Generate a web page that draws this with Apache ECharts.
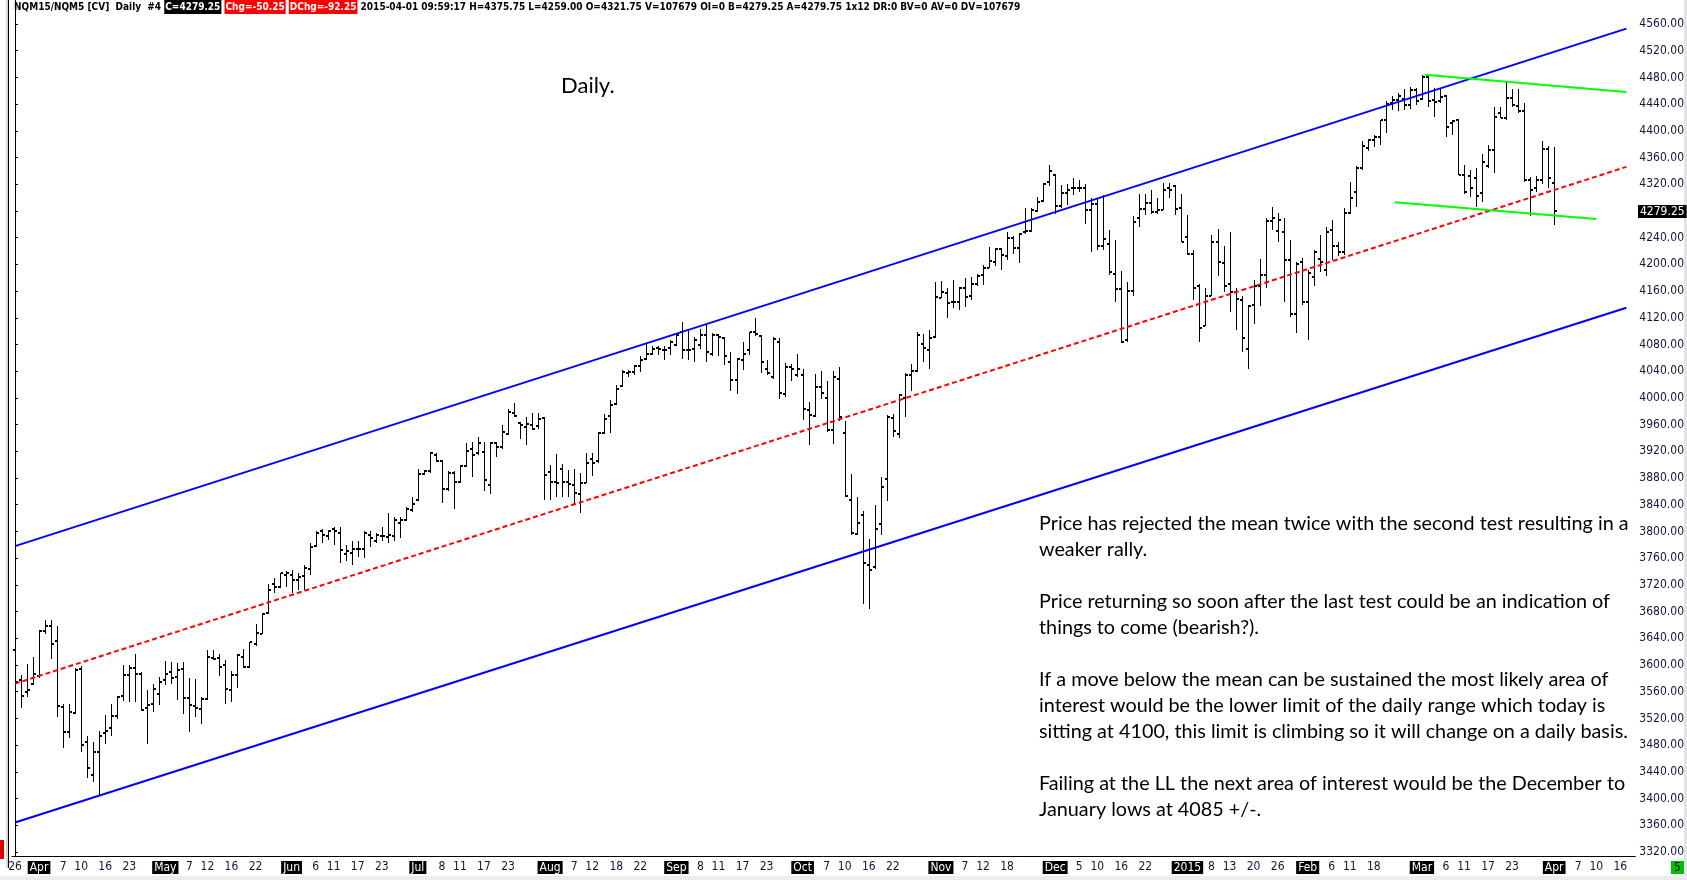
<!DOCTYPE html>
<html lang="en">
<head>
<meta charset="UTF-8"/>
<title>NQM15 Daily</title>
<script src="https://cdn.jsdelivr.net/npm/echarts@6.0.0/dist/echarts.min.js"></script>
<style>
	html, body { margin: 0; padding: 0; background: #fff; }
	#main { width: 1687px; height: 880px; }
</style>
</head>
<body>
<div id="main"></div>
<script type="text/javascript">
// daily bars NQ continuous, 2014-03-26 .. 2015-04-01
var opens = [
	3622, 3577, 3559, 3572, 3583, 3651, 3659, 3636, 3537, 3500,
	3528, 3594, 3485, 3435, 3470, 3498, 3506, 3524, 3553, 3585,
	3595, 3587, 3535, 3541, 3556, 3577, 3589, 3582, 3594, 3550,
	3538, 3534, 3549, 3611, 3610, 3600, 3563, 3585, 3612, 3597,
	3631, 3647, 3678, 3721, 3717, 3735, 3735, 3728, 3733, 3743,
	3778, 3801, 3793, 3803, 3797, 3766, 3767, 3773, 3773, 3795,
	3785, 3793, 3791, 3793, 3812, 3817, 3832, 3847, 3886, 3890,
	3914, 3905, 3863, 3888, 3874, 3898, 3923, 3918, 3919, 3870,
	3932, 3926, 3946, 3978, 3963, 3956, 3960, 3958, 3970, 3889,
	3874, 3894, 3874, 3869, 3856, 3873, 3908, 3905, 3947, 3973,
	3991, 4018, 4038, 4039, 4048, 4058, 4066, 4074, 4072, 4075,
	4079, 4099, 4072, 4073, 4079, 4094, 4066, 4094, 4089, 4053,
	4027, 4056, 4072, 4099, 4093, 4044, 4032, 4084, 4006, 4047,
	4034, 4034, 3982, 3973, 4017, 4000, 3952, 4029, 3947, 3847,
	3796, 3825, 3750, 3747, 3811, 3879, 3970, 3946, 4000, 4035,
	4040, 4080, 4071, 4091, 4150, 4157, 4144, 4144, 4165, 4152,
	4170, 4184, 4195, 4204, 4223, 4212, 4239, 4224, 4249, 4250,
	4280, 4295, 4324, 4334, 4287, 4307, 4314, 4314, 4315, 4282,
	4291, 4228, 4230, 4185, 4163, 4087, 4160, 4269, 4283, 4292,
	4278, 4282, 4315, 4317, 4284, 4241, 4216, 4168, 4107, 4153,
	4234, 4202, 4170, 4158, 4147, 4073, 4139, 4167, 4184, 4265,
	4250, 4249, 4207, 4126, 4204, 4143, 4181, 4208, 4192, 4251,
	4227, 4219, 4277, 4309, 4344, 4374, 4386, 4390, 4416, 4441,
	4446, 4447, 4439, 4461, 4447, 4480, 4446, 4444, 4452, 4412,
	4416, 4334, 4332, 4329, 4307, 4347, 4371, 4426, 4419, 4449,
	4437, 4429, 4327, 4314, 4327, 4372, 4321.75
];
var highs = [
	3647, 3585, 3601, 3612, 3652, 3668, 3668, 3658, 3542, 3542,
	3596, 3599, 3494, 3485, 3501, 3525, 3542, 3553, 3600, 3600,
	3617, 3590, 3562, 3571, 3582, 3606, 3604, 3603, 3605, 3580,
	3579, 3552, 3623, 3623, 3616, 3607, 3591, 3617, 3624, 3635,
	3661, 3678, 3722, 3730, 3738, 3741, 3742, 3738, 3750, 3782,
	3800, 3803, 3802, 3806, 3807, 3780, 3785, 3785, 3801, 3800,
	3797, 3807, 3827, 3822, 3822, 3837, 3851, 3894, 3892, 3919,
	3917, 3907, 3890, 3890, 3899, 3932, 3934, 3941, 3934, 3934,
	3934, 3959, 3984, 3993, 3964, 3972, 3977, 3977, 3971, 3900,
	3916, 3901, 3892, 3893, 3887, 3917, 3917, 3949, 3976, 3997,
	4019, 4042, 4042, 4049, 4062, 4082, 4077, 4077, 4077, 4086,
	4097, 4114, 4101, 4091, 4103, 4109, 4097, 4096, 4091, 4068,
	4060, 4084, 4099, 4119, 4094, 4057, 4091, 4089, 4052, 4051,
	4066, 4044, 3994, 4036, 4041, 4026, 4041, 4047, 3966, 3886,
	3851, 3831, 3789, 3840, 3881, 3974, 3976, 4006, 4038, 4051,
	4099, 4096, 4102, 4174, 4175, 4164, 4176, 4166, 4179, 4181,
	4186, 4199, 4226, 4224, 4225, 4249, 4242, 4247, 4285, 4285,
	4301, 4322, 4349, 4336, 4319, 4320, 4329, 4327, 4321, 4300,
	4300, 4304, 4251, 4236, 4190, 4174, 4272, 4305, 4306, 4312,
	4299, 4322, 4322, 4319, 4306, 4274, 4221, 4170, 4164, 4244,
	4253, 4228, 4249, 4164, 4152, 4139, 4176, 4208, 4269, 4286,
	4277, 4270, 4236, 4204, 4209, 4192, 4222, 4244, 4256, 4267,
	4233, 4284, 4324, 4347, 4384, 4387, 4394, 4416, 4445, 4452,
	4456, 4462, 4465, 4464, 4484, 4484, 4464, 4464, 4454, 4416,
	4417, 4349, 4341, 4344, 4366, 4379, 4436, 4436, 4474, 4462,
	4462, 4441, 4331, 4332, 4384, 4377, 4375.75
];
var lows = [
	3572, 3536, 3552, 3570, 3580, 3647, 3609, 3522, 3475, 3490,
	3527, 3470, 3431, 3425, 3404, 3481, 3493, 3519, 3546, 3545,
	3544, 3531, 3481, 3530, 3540, 3570, 3571, 3548, 3527, 3499,
	3522, 3511, 3547, 3607, 3584, 3541, 3544, 3566, 3596, 3595,
	3628, 3646, 3676, 3708, 3715, 3717, 3708, 3712, 3713, 3735,
	3777, 3783, 3787, 3780, 3752, 3755, 3750, 3762, 3760, 3776,
	3782, 3786, 3783, 3785, 3790, 3815, 3829, 3846, 3885, 3888,
	3904, 3842, 3860, 3833, 3873, 3897, 3881, 3914, 3860, 3856,
	3912, 3924, 3944, 3972, 3939, 3929, 3952, 3953, 3847, 3847,
	3851, 3852, 3852, 3841, 3827, 3873, 3883, 3903, 3946, 3948,
	3989, 4016, 4032, 4034, 4039, 4056, 4064, 4064, 4056, 4064,
	4077, 4058, 4057, 4053, 4073, 4054, 4062, 4062, 4049, 4011,
	4006, 4042, 4064, 4092, 4037, 4034, 4029, 3999, 4001, 4026,
	4031, 3967, 3929, 3971, 3999, 3949, 3931, 3966, 3851, 3794,
	3794, 3691, 3684, 3744, 3794, 3846, 3941, 3940, 3971, 4011,
	4039, 4054, 4044, 4090, 4149, 4120, 4135, 4131, 4136, 4146,
	4167, 4169, 4194, 4197, 4192, 4206, 4215, 4202, 4246, 4249,
	4279, 4294, 4318, 4276, 4285, 4289, 4304, 4309, 4261, 4218,
	4222, 4221, 4184, 4143, 4082, 4084, 4152, 4256, 4274, 4276,
	4276, 4282, 4300, 4274, 4233, 4214, 4147, 4083, 4107, 4152,
	4182, 4158, 4128, 4102, 4068, 4043, 4110, 4137, 4164, 4251,
	4233, 4144, 4121, 4097, 4139, 4087, 4167, 4189, 4183, 4207,
	4212, 4214, 4276, 4286, 4341, 4370, 4375, 4379, 4397, 4431,
	4430, 4431, 4432, 4439, 4446, 4436, 4421, 4441, 4391, 4394,
	4334, 4306, 4301, 4286, 4294, 4345, 4337, 4419, 4416, 4436,
	4426, 4324, 4272, 4309, 4321, 4315, 4259
];
var closes = [
	3574, 3554, 3563, 3586, 3651, 3659, 3632, 3538, 3500, 3529,
	3592, 3480, 3445, 3470, 3493, 3501, 3524, 3552, 3585, 3595,
	3586, 3533, 3540, 3564, 3574, 3587, 3581, 3592, 3550, 3540,
	3536, 3549, 3612, 3609, 3597, 3564, 3585, 3615, 3597, 3634,
	3648, 3676, 3712, 3717, 3737, 3738, 3727, 3731, 3745, 3777,
	3798, 3795, 3800, 3801, 3772, 3770, 3773, 3773, 3797, 3790,
	3795, 3793, 3795, 3817, 3817, 3833, 3841, 3886, 3891, 3917,
	3905, 3863, 3887, 3874, 3898, 3921, 3914, 3932, 3877, 3933,
	3927, 3949, 3979, 3973, 3959, 3961, 3953, 3969, 3884, 3874,
	3873, 3874, 3871, 3857, 3873, 3903, 3903, 3947, 3969, 3989,
	4014, 4039, 4039, 4048, 4057, 4066, 4073, 4073, 4071, 4083,
	4094, 4072, 4071, 4086, 4094, 4068, 4094, 4091, 4062, 4027,
	4058, 4066, 4099, 4096, 4054, 4038, 4088, 4008, 4047, 4044,
	4044, 3983, 3974, 4016, 4007, 3952, 4031, 3971, 3853, 3797,
	3812, 3752, 3742, 3804, 3866, 3971, 3950, 4005, 4035, 4040,
	4094, 4074, 4089, 4151, 4159, 4142, 4144, 4164, 4151, 4171,
	4182, 4195, 4205, 4223, 4214, 4240, 4224, 4246, 4250, 4282,
	4294, 4321, 4340, 4287, 4307, 4312, 4315, 4315, 4281, 4291,
	4227, 4238, 4188, 4163, 4084, 4160, 4264, 4283, 4292, 4278,
	4282, 4312, 4311, 4283, 4234, 4216, 4164, 4104, 4153, 4234,
	4203, 4168, 4158, 4148, 4090, 4137, 4167, 4184, 4265, 4269,
	4267, 4207, 4126, 4201, 4143, 4187, 4218, 4204, 4249, 4227,
	4219, 4277, 4299, 4344, 4377, 4386, 4390, 4416, 4440, 4446,
	4452, 4439, 4461, 4444, 4480, 4444, 4443, 4451, 4406, 4415,
	4334, 4309, 4314, 4302, 4354, 4371, 4421, 4419, 4449, 4439,
	4429, 4327, 4311, 4327, 4372, 4329.5, 4279.25
];

// exchange holidays inside the range, and empty days drawn after the last bar
var holidays = ['2014-04-18', '2014-05-26', '2014-07-04', '2014-09-01', '2014-11-27',
	'2014-12-25', '2015-01-01', '2015-01-19', '2015-02-16'];
var futureDays = 13;

// x axis labels
var tickDates = [
	'2014-03-26', '2014-04-01', '2014-04-07', '2014-04-10', '2014-04-16', '2014-04-23',
	'2014-05-01', '2014-05-07', '2014-05-12', '2014-05-16', '2014-05-22',
	'2014-06-02', '2014-06-06', '2014-06-11', '2014-06-17', '2014-06-23',
	'2014-07-01', '2014-07-08', '2014-07-11', '2014-07-17', '2014-07-23',
	'2014-08-01', '2014-08-07', '2014-08-12', '2014-08-18', '2014-08-22',
	'2014-09-02', '2014-09-08', '2014-09-11', '2014-09-17', '2014-09-23',
	'2014-10-01', '2014-10-07', '2014-10-10', '2014-10-16', '2014-10-22',
	'2014-11-03', '2014-11-07', '2014-11-12', '2014-11-18',
	'2014-12-01', '2014-12-05', '2014-12-10', '2014-12-16', '2014-12-22',
	'2015-01-02', '2015-01-08', '2015-01-13', '2015-01-20', '2015-01-26',
	'2015-02-02', '2015-02-06', '2015-02-11', '2015-02-18',
	'2015-03-02', '2015-03-06', '2015-03-11', '2015-03-17', '2015-03-23',
	'2015-04-01', '2015-04-07', '2015-04-10', '2015-04-16'
];
var tickLabels = [
	'26', 'Apr', '7', '10', '16', '23',
	'May', '7', '12', '16', '22',
	'Jun', '6', '11', '17', '23',
	'Jul', '8', '11', '17', '23',
	'Aug', '7', '12', '18', '22',
	'Sep', '8', '11', '17', '23',
	'Oct', '7', '10', '16', '22',
	'Nov', '7', '12', '18',
	'Dec', '5', '10', '16', '22',
	'2015', '8', '13', '20', '26',
	'Feb', '6', '11', '18',
	'Mar', '6', '11', '17', '23',
	'Apr', '7', '10', '16'
];

// price axis
var priceTicks = [3320, 3360, 3400, 3440, 3480, 3520, 3560, 3600, 3640, 3680, 3720, 3760,
	3800, 3840, 3880, 3920, 3960, 4000, 4040, 4080, 4120, 4160, 4200, 4240, 4280,
	4320, 4360, 4400, 4440, 4480, 4520, 4560];

// drawn trend lines: [bar index, price]
var upperChannel = [[0, 3778], [268, 4553]];
var meanLine = [[0, 3572], [268, 4346]];
var lowerChannel = [[0, 3364], [268, 4135]];
var greenTop = [[234.5, 4484], [268, 4458]];
var greenBottom = [[229.5, 4293], [263, 4268]];

var noteLines = [
	'Price has rejected the mean twice with the second test resulting in a',
	'weaker rally.',
	'',
	'Price returning so soon after the last test could be an indication of',
	'things to come (bearish?).',
	'',
	'If a move below the mean can be sustained the most likely area of',
	'interest would be the lower limit of the daily range which today is',
	'sitting at 4100, this limit is climbing so it will change on a daily basis.',
	'',
	'Failing at the LL the next area of interest would be the December to',
	'January lows at 4085 +/-.'
];

var NARROW = "'Liberation Sans Narrow', 'DejaVu Sans Condensed', sans-serif";

// trading day categories
var dates = [];
var t = Date.UTC(2014, 2, 26);
while (dates.length < opens.length + futureDays) {
	var day = new Date(t);
	var wd = day.getUTCDay();
	var s = day.toISOString().slice(0, 10);
	if (wd !== 0 && wd !== 6 && holidays.indexOf(s) < 0) dates.push(s);
	t += 86400000;
}

var tickSet = {};
tickDates.forEach(function (d) { tickSet[d] = true; });
function showTick(index, value) { return tickSet[value] === true; }

var bars = opens.map(function (o, i) { return [i, o, highs[i], lows[i], closes[i]]; });
var lastClose = closes[closes.length - 1];

function renderBar(params, api) {
	var i = api.value(0);
	var hi = api.coord([i, api.value(2)]);
	var lo = api.coord([i, api.value(3)]);
	var op = api.coord([i, api.value(1)]);
	var cl = api.coord([i, api.value(4)]);
	var x = Math.round(hi[0]);
	var y1 = Math.round(hi[1]), y2 = Math.round(lo[1]);
	return {
		type: 'group',
		children: [
			{ type: 'rect', shape: { x: x, y: y1, width: 1, height: Math.max(1, y2 - y1) }, style: { fill: '#000' } },
			{ type: 'rect', shape: { x: x - 2, y: Math.round(op[1]) - 1, width: 2, height: 2 }, style: { fill: '#000' } },
			{ type: 'rect', shape: { x: x + 1, y: Math.round(cl[1]) - 1, width: 2, height: 2 }, style: { fill: '#000' } }
		]
	};
}

function trend(data, color, width, dash) {
	return {
		type: 'line',
		xAxisIndex: 1,
		data: data,
		symbol: 'none',
		silent: true,
		z: 5,
		lineStyle: { color: color, width: width, type: dash || 'solid' }
	};
}

var myChart = echarts.init(document.getElementById('main'));
var option = {
	animation: false,
	backgroundColor: '#fff',
	title: {
		left: 14,
		top: 0,
		padding: 0,
		text: '{n|NQM15/NQM5 [CV]  Daily  #4 }{k|C=4279.25}{n| }{r|Chg=-50.25}{n| }{r|DChg=-92.25}' +
			'{n| 2015-04-01 09:59:17 H=4375.75 L=4259.00 O=4321.75 V=107679 OI=0 B=4279.25 A=4279.75 1x12 DR:0 BV=0 AV=0 DV=107679}',
		textStyle: {
			rich: {
				n: { fontFamily: NARROW, fontSize: 10, color: '#000', padding: [2, 0] },
				k: { fontFamily: NARROW, fontSize: 10, color: '#fff', backgroundColor: '#000', padding: [2, 1] },
				r: { fontFamily: NARROW, fontSize: 10, color: '#fff', backgroundColor: '#ff0000', padding: [2, 1] }
			}
		}
	},
	grid: { left: 12, right: 51, top: 0, bottom: 24 },
	xAxis: [
		{
			type: 'category',
			data: dates,
			boundaryGap: true,
			axisLine: { lineStyle: { color: '#000', width: 1 } },
			axisTick: { interval: showTick, alignWithLabel: true, length: 3, lineStyle: { color: '#000' } },
			axisLabel: {
				interval: showTick,
				margin: 5,
				fontFamily: NARROW,
				fontSize: 12,
				color: '#14143c',
				formatter: function (value) {
					var k = tickDates.indexOf(value);
					var txt = tickLabels[k];
					if (txt !== String(+value.slice(8))) return '{m|' + txt + '}';
					return txt;
				},
				rich: {
					m: { fontFamily: NARROW, fontSize: 12, color: '#fff', backgroundColor: '#000', padding: [1, 2, 0, 2] }
				}
			},
			splitLine: { show: false }
		},
		{ type: 'value', min: -0.5, max: dates.length - 0.5, show: false }
	],
	yAxis: {
		type: 'value',
		position: 'right',
		min: 3313.9,
		max: 4595.9,
		axisLine: { show: true, lineStyle: { color: '#000', width: 1 } },
		axisTick: { show: true, customValues: priceTicks, length: 3, lineStyle: { color: '#000' } },
		axisLabel: {
			customValues: priceTicks.filter(function (v) { return Math.abs(v - lastClose) > 10; }),
			formatter: function (v) { return v.toFixed(2); },
			margin: 4,
			fontFamily: NARROW,
			fontSize: 12,
			color: '#14143c'
		},
		splitLine: { show: false }
	},
	series: [
		{
			type: 'custom',
			renderItem: renderBar,
			data: bars,
			encode: { x: 0, y: [1, 2, 3, 4] },
			silent: true,
			z: 3
		},
		trend(upperChannel, '#0000ff', 2),
		trend(lowerChannel, '#0000ff', 2),
		trend(meanLine, '#ff0000', 2, [5, 3]),
		trend(greenTop, '#00ff00', 2),
		trend(greenBottom, '#00ff00', 2)
	],
	graphic: [
		{ id: 'edgeGrey', type: 'rect', z: 10, shape: { x: 6, y: 0, width: 2, height: 868 }, style: { fill: '#d8d8d8' } },
		{ id: 'edgeLine', type: 'rect', z: 10, shape: { x: 8, y: 0, width: 1, height: 868 }, style: { fill: '#000' } },
		{ id: 'redMark', type: 'rect', z: 10, shape: { x: 0, y: 840, width: 4, height: 19 }, style: { fill: '#e00000' } },
		{ id: 'bottomStrip', type: 'rect', z: 10, shape: { x: 0, y: 876, width: 1687, height: 4 }, style: { fill: '#ececec' } },
		{ id: 'rightStrip', type: 'rect', z: 10, shape: { x: 1684, y: 0, width: 3, height: 876 }, style: { fill: '#e4e4e4' } },
		{ id: 'greenBox', type: 'rect', z: 10, shape: { x: 1671, y: 861, width: 13, height: 13 }, style: { fill: '#00c000' } },
		{ id: 'greenTxt', type: 'text', z: 11, x: 1677.5, y: 868, style: { text: '5', font: "12px " + NARROW, fill: '#000', align: 'center', verticalAlign: 'middle' } },
		{ id: 'daily', type: 'text', z: 11, x: 561, y: 73, style: { text: 'Daily.', font: '22px Lato', lineHeight: 26, fill: '#000', verticalAlign: 'top' } },
		{ id: 'notes', type: 'text', z: 11, x: 1039, y: 511, style: { text: noteLines.join('\n'), font: '19.8px Lato', lineHeight: 26, fill: '#000', verticalAlign: 'top' } }
	]
};
myChart.setOption(option);

// last price flag on the price axis, placed with the axis scale
var flagY = myChart.convertToPixel({ yAxisIndex: 0 }, lastClose);
myChart.setOption({
	graphic: [{
		id: 'lastPrice',
		type: 'text',
		z: 12,
		x: 1638,
		y: flagY,
		style: {
			text: lastClose.toFixed(2),
			font: '12px ' + NARROW,
			fill: '#fff',
			backgroundColor: '#000',
			padding: [1, 2, 0, 2],
			verticalAlign: 'middle'
		}
	}]
});
</script>
</body>
</html>
